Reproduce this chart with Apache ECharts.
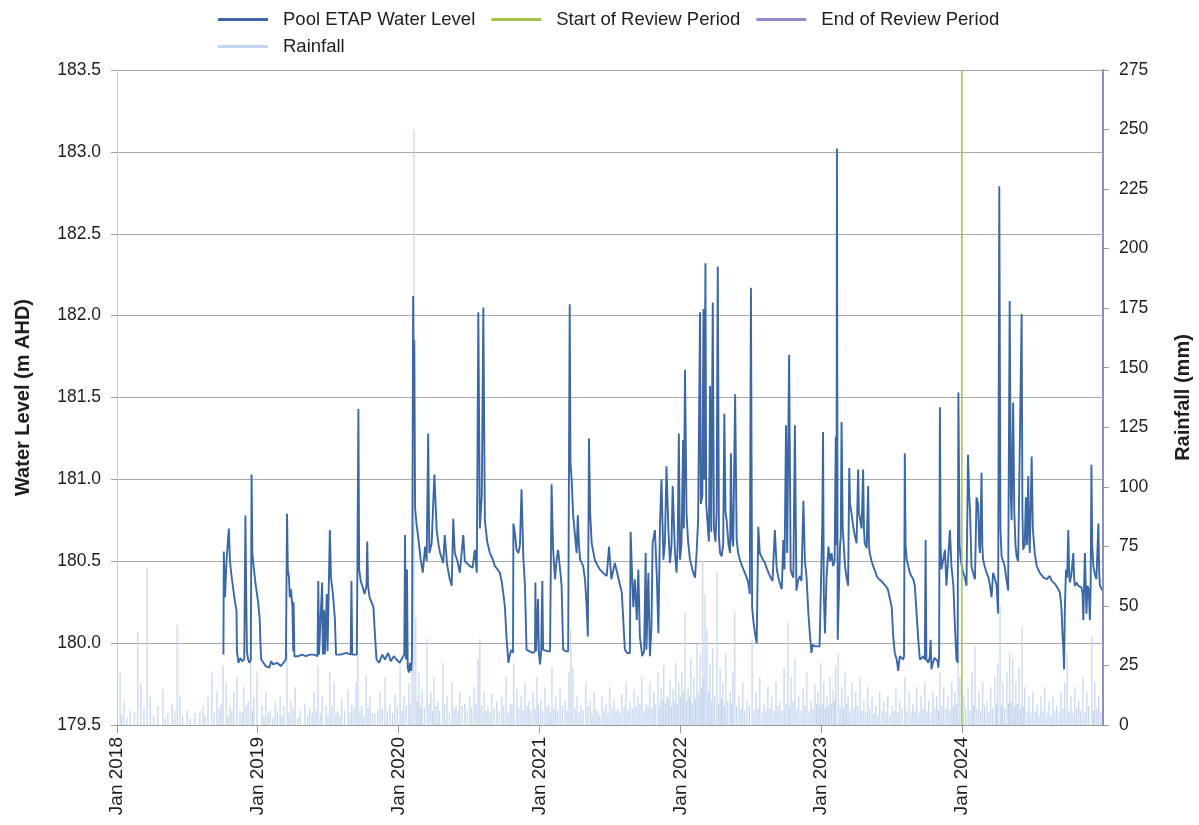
<!DOCTYPE html>
<html><head><meta charset="utf-8">
<script src="https://cdn.jsdelivr.net/npm/echarts@6/dist/echarts.min.js"></script>
<style>html,body{margin:0;padding:0;background:#fff}#c{width:1199px;height:825px}</style>
</head><body><div id="c"></div><script>
// x values are days since 1 Jan 2018
const tickDays = [0, 365, 730, 1096, 1461, 1826, 2191];
const tickLabels = ['Jan 2018','Jan 2019','Jan 2020','Jan 2021','Jan 2022','Jan 2023','Jan 2024'];
const axisEndDay = 2557;
const reviewStartDay = 2191;
const reviewEndDay = 2557;
const levelTicks = [179.5, 183.5, 0.5];
const rainTicks = [0, 275, 25];

const waterLevel = [
[276,179.93],[277,180.56],[280,180.28],[284,180.50],[290,180.70],[293,180.50],[297,180.41],[302,180.32],[306,180.25],[310,180.20],[311,179.95],[315,179.88],[320,179.91],[324,179.89],[330,179.90],[333,180.78],[335,180.32],[337,179.95],[340,179.90],[343,179.88],[347,179.90],[349,181.03],[351,180.55],[355,180.45],[360,180.35],[366,180.25],[370,180.15],[372,180.00],[374,179.90],[380,179.88],[385,179.86],[390,179.87],[395,179.85],[400,179.89],[405,179.87],[410,179.86],[415,179.88],[420,179.88],[425,179.86],[430,179.87],[438,179.90],[441,180.79],[443,180.45],[446,180.40],[448,180.28],[451,180.33],[455,180.22],[457,179.95],[458,180.25],[460,179.92],[470,179.92],[480,179.93],[490,179.92],[500,179.93],[510,179.93],[520,179.92],[522,180.38],[524,179.93],[532,180.37],[534,179.93],[537,180.20],[539,179.93],[544,180.30],[546,179.95],[552,180.69],[555,180.40],[560,180.30],[565,180.15],[568,179.93],[580,179.93],[595,179.94],[606,179.93],[608,180.38],[610,179.93],[622,179.93],[626,181.43],[628,180.45],[632,180.38],[636,180.35],[642,180.30],[647,180.35],[649,180.62],[651,180.35],[655,180.28],[660,180.25],[665,180.22],[669,180.05],[673,179.90],[680,179.88],[688,179.93],[695,179.90],[703,179.94],[710,179.89],[718,179.92],[725,179.90],[733,179.88],[740,179.91],[745,179.93],[747,180.66],[749,179.90],[752,180.45],[754,179.85],[757,179.82],[760,179.88],[763,179.83],[765,179.92],[768,182.12],[770,181.30],[771,181.85],[773,180.83],[777,180.72],[781,180.65],[787,180.52],[793,180.43],[799,180.59],[803,180.50],[807,181.28],[810,180.55],[816,180.61],[823,181.03],[829,180.69],[834,180.60],[838,180.55],[846,180.49],[850,180.66],[856,180.48],[863,180.39],[868,180.35],[872,180.76],[876,180.55],[883,180.50],[889,180.43],[898,180.66],[902,180.50],[907,180.51],[915,180.47],[922,180.46],[928,180.57],[933,180.43],[937,182.02],[941,180.70],[946,180.90],[950,182.05],[954,180.75],[960,180.62],[967,180.55],[973,180.52],[980,180.47],[987,180.45],[993,180.43],[998,180.37],[1002,180.30],[1006,180.22],[1010,180.04],[1015,179.88],[1019,179.93],[1023,179.96],[1027,179.94],[1028,180.73],[1032,180.67],[1036,180.57],[1041,180.55],[1045,180.60],[1049,180.94],[1054,180.51],[1058,180.35],[1062,179.96],[1070,179.95],[1078,179.94],[1084,179.95],[1085,180.37],[1087,179.95],[1092,180.27],[1094,179.94],[1097,179.87],[1100,179.95],[1103,180.38],[1105,179.96],[1110,179.96],[1117,179.95],[1123,179.95],[1127,180.97],[1131,180.57],[1136,180.39],[1140,180.51],[1144,180.57],[1149,180.45],[1153,180.35],[1157,179.96],[1164,179.95],[1170,179.95],[1174,182.07],[1176,181.10],[1179,181.00],[1183,180.78],[1188,180.65],[1192,180.55],[1195,180.78],[1198,180.60],[1201,180.51],[1209,180.47],[1214,180.38],[1218,180.22],[1221,180.04],[1224,181.25],[1227,180.80],[1231,180.61],[1239,180.51],[1245,180.48],[1252,180.45],[1260,180.43],[1270,180.41],[1276,180.59],[1282,180.39],[1291,180.49],[1299,180.41],[1304,180.36],[1309,180.31],[1313,180.14],[1317,179.96],[1323,179.94],[1330,179.94],[1332,180.68],[1336,180.40],[1339,180.22],[1343,180.39],[1348,180.14],[1352,180.45],[1356,180.04],[1362,179.92],[1367,179.95],[1371,180.55],[1373,179.96],[1378,180.43],[1382,179.92],[1386,180.10],[1389,180.61],[1395,180.69],[1400,180.40],[1404,180.06],[1408,180.71],[1412,181.00],[1417,180.51],[1421,180.62],[1425,181.08],[1430,180.69],[1434,180.49],[1438,180.60],[1441,180.96],[1447,180.55],[1451,180.43],[1454,180.60],[1457,181.28],[1460,180.51],[1464,180.61],[1468,181.24],[1470,180.70],[1473,181.67],[1477,180.79],[1481,180.62],[1486,180.51],[1492,180.45],[1499,180.40],[1503,180.55],[1507,180.75],[1512,182.02],[1514,180.85],[1518,180.90],[1521,182.04],[1523,181.00],[1526,182.32],[1528,180.85],[1531,180.75],[1535,180.62],[1538,181.57],[1541,180.68],[1545,182.08],[1548,180.70],[1552,180.62],[1555,180.80],[1558,182.30],[1561,180.65],[1564,180.55],[1568,180.53],[1572,180.60],[1575,181.40],[1578,180.80],[1581,180.75],[1586,180.60],[1590,180.55],[1592,181.16],[1595,180.65],[1598,180.59],[1603,181.52],[1607,180.63],[1611,180.55],[1615,180.51],[1621,180.47],[1628,180.43],[1633,180.40],[1637,180.37],[1641,180.30],[1644,182.17],[1647,180.22],[1650,180.14],[1655,180.05],[1659,180.00],[1663,180.71],[1667,180.55],[1673,180.52],[1680,180.49],[1686,180.45],[1693,180.41],[1700,180.38],[1706,180.69],[1711,180.45],[1717,180.38],[1724,180.33],[1728,180.63],[1731,180.45],[1735,181.33],[1738,180.55],[1743,181.76],[1747,180.45],[1749,180.43],[1754,180.40],[1758,181.33],[1762,180.32],[1766,180.38],[1771,180.41],[1775,180.38],[1780,180.87],[1784,180.50],[1788,180.41],[1793,180.18],[1797,180.05],[1801,179.94],[1804,179.99],[1810,179.98],[1815,179.97],[1822,179.98],[1827,179.97],[1829,180.72],[1831,181.29],[1833,180.30],[1836,180.06],[1840,180.40],[1845,180.59],[1849,180.50],[1853,180.55],[1857,180.47],[1861,180.50],[1864,181.26],[1866,180.60],[1867,183.02],[1869,180.02],[1872,180.30],[1875,180.59],[1877,180.65],[1879,181.35],[1882,180.70],[1888,180.47],[1892,180.40],[1896,180.35],[1899,181.07],[1901,180.85],[1905,180.79],[1910,180.70],[1914,180.65],[1918,180.61],[1922,181.06],[1924,180.80],[1927,180.79],[1931,180.70],[1935,181.06],[1937,180.70],[1939,180.61],[1944,180.58],[1948,180.96],[1950,180.60],[1952,180.55],[1957,180.50],[1961,180.47],[1966,180.44],[1970,180.41],[1976,180.39],[1982,180.38],[1987,180.37],[1993,180.35],[1999,180.33],[2004,180.32],[2009,180.22],[2013,180.04],[2017,179.94],[2022,179.90],[2026,179.83],[2030,179.92],[2035,179.91],[2039,179.90],[2041,179.92],[2043,181.16],[2045,180.60],[2048,180.51],[2052,180.47],[2056,180.43],[2060,180.41],[2065,180.39],[2069,180.35],[2073,180.20],[2078,180.02],[2082,179.90],[2086,179.91],[2091,179.92],[2095,179.90],[2097,180.63],[2099,179.90],[2104,179.88],[2108,179.92],[2110,180.02],[2112,179.84],[2116,179.88],[2120,179.91],[2125,179.92],[2128,179.89],[2130,179.85],[2132,179.92],[2134,181.44],[2136,180.60],[2138,180.45],[2142,180.50],[2147,180.57],[2151,180.35],[2155,180.50],[2160,180.69],[2164,180.47],[2169,180.35],[2173,180.10],[2177,179.90],[2180,179.88],[2182,181.53],[2185,180.60],[2188,180.51],[2194,180.43],[2199,180.40],[2203,180.35],[2207,181.15],[2210,180.90],[2212,180.82],[2216,180.47],[2221,180.42],[2225,180.39],[2229,180.89],[2233,180.85],[2236,180.60],[2238,180.55],[2242,181.04],[2244,180.60],[2246,180.51],[2250,180.47],[2255,180.43],[2260,180.40],[2264,180.35],[2268,180.28],[2272,180.43],[2276,180.40],[2281,180.35],[2285,180.18],[2288,182.79],[2291,180.70],[2294,180.53],[2298,180.50],[2302,180.47],[2306,180.40],[2311,180.32],[2315,182.09],[2318,180.90],[2320,180.75],[2324,181.47],[2327,180.80],[2330,180.60],[2333,180.53],[2337,180.50],[2341,180.49],[2346,182.01],[2348,180.80],[2350,180.57],[2354,180.60],[2357,180.89],[2360,180.60],[2363,181.02],[2365,180.70],[2367,180.55],[2372,181.14],[2375,180.70],[2380,180.55],[2385,180.47],[2389,180.45],[2393,180.43],[2398,180.42],[2403,180.40],[2407,180.41],[2411,180.39],[2415,180.40],[2419,180.41],[2424,180.38],[2428,180.37],[2433,180.36],[2437,180.35],[2441,180.33],[2445,180.31],[2448,180.25],[2450,180.18],[2452,180.05],[2454,179.98],[2456,179.84],[2458,180.20],[2461,180.45],[2464,180.40],[2467,180.69],[2469,180.45],[2471,180.37],[2475,180.42],[2480,180.55],[2482,180.40],[2484,180.35],[2488,180.37],[2493,180.35],[2497,180.36],[2501,180.34],[2504,180.30],[2506,180.14],[2508,180.35],[2510,180.55],[2512,180.38],[2514,180.18],[2517,180.35],[2520,180.33],[2523,180.14],[2525,180.35],[2527,181.09],[2529,180.60],[2532,180.47],[2536,180.42],[2540,180.39],[2545,180.73],[2547,180.45],[2549,180.35],[2553,180.34],[2556,180.32]
];

const rainfall = [
[8,22],[18,10],[34,6],[54,39],[62,18],[78,66],[86,12],[106,8],[119,15],[132,5],[143,9],[156,42],[163,12],[182,6],[202,5],[223,8],[236,12],[246,22],[259,14],[270,9],[275,25],[283,18],[293,8],[303,14],[311,20],[319,6],[329,16],[340,10],[347,28],[355,12],[363,22],
[376,8],[386,14],[397,6],[410,10],[423,12],[433,8],[441,31],[451,10],[462,16],[475,6],[487,9],[500,7],[511,14],[521,25],[532,12],[542,8],[552,22],[563,18],[573,6],[583,11],[599,15],[609,9],[620,18],[625,30],[635,8],[646,21],[656,12],[669,5],[682,14],[695,20],[708,9],[721,13],[734,25],
[744,12],[757,18],[765,30],[770,250],[775,45],[783,22],[791,15],[804,36],[814,14],[822,20],[832,10],[845,26],[856,12],[869,18],[879,8],[889,14],[902,9],[915,12],[926,16],[936,28],[941,36],[952,14],[962,8],[972,13],[985,10],[998,12],[1009,20],[1019,9],[1029,26],[1037,15],[1048,12],[1058,18],[1068,10],[1079,14],[1089,20],
[1099,11],[1110,16],[1120,9],[1128,24],[1138,12],[1149,15],[1162,10],[1172,22],[1177,40],[1182,24],[1193,12],[1203,8],[1216,18],[1227,10],[1237,14],[1247,6],[1258,12],[1268,9],[1278,16],[1289,11],[1299,7],[1309,13],[1320,18],[1330,10],[1341,15],[1351,12],[1361,20],[1372,9],[1382,18],[1392,14],[1403,22],[1411,16],[1418,25],[1426,12],[1434,19],[1442,15],[1449,26],[1457,18],
[1465,22],[1473,47],[1481,16],[1488,28],[1496,20],[1504,34],[1512,30],[1519,69],[1525,55],[1530,40],[1538,26],[1545,32],[1556,64],[1564,24],[1571,18],[1579,30],[1590,14],[1597,22],[1602,47],[1613,12],[1623,18],[1634,10],[1647,36],[1657,14],[1667,20],[1678,9],[1688,16],[1698,12],[1709,18],[1719,10],[1730,24],[1740,43],[1748,20],[1758,28],[1768,12],[1779,15],[1789,22],[1800,10],[1810,17],[1818,14],[1825,26],
[1833,18],[1841,12],[1849,20],[1857,15],[1864,25],[1870,30],[1880,16],[1888,22],[1896,12],[1906,18],[1916,14],[1927,20],[1937,10],[1947,16],[1958,12],[1968,8],[1978,14],[1989,10],[1999,12],[2010,8],[2020,15],[2030,10],[2043,20],[2054,14],[2064,9],[2074,16],[2085,12],[2095,18],[2105,10],[2116,14],[2126,12],[2134,22],[2144,16],[2155,12],[2165,18],[2173,14],[2181,30],[2186,20],
[2196,12],[2207,16],[2217,22],[2225,33],[2235,14],[2245,18],[2256,10],[2266,16],[2277,20],[2284,26],[2290,50],[2297,18],[2308,22],[2315,30],[2323,28],[2331,18],[2339,24],[2347,41],[2354,16],[2365,12],[2375,14],[2386,9],[2396,12],[2406,16],[2417,10],[2427,12],[2437,8],[2448,14],[2458,18],[2464,30],[2474,12],[2484,16],[2494,10],[2505,20],[2515,14],[2528,37],[2536,18],[2546,12],
[12,4],[26,3],[45,5],[70,7],[95,4],[125,3],[150,6],[170,4],[190,3],[215,6],[228,4],[252,5],[265,7],[288,4],[298,6],[325,5],[335,8],[351,6],
[381,4],[392,5],[404,3],[416,6],[428,4],[446,5],[457,7],[469,3],[494,4],[506,5],[516,6],[527,5],[547,4],[557,8],[568,5],[578,4],[590,6],[604,5],[615,7],[630,6],[640,4],[651,7],[662,5],[676,6],[688,7],[701,6],[715,5],[727,8],
[739,6],[750,8],[760,9],[779,10],[787,8],[797,7],[809,9],[818,6],[827,8],[837,6],[850,9],[862,5],[874,7],[884,6],[895,8],[908,6],[920,7],[931,9],[946,8],[957,6],[967,5],[978,7],[991,6],[1003,8],[1014,5],[1024,9],[1042,7],[1053,6],[1063,8],[1073,6],[1084,7],[1093,9],
[1104,6],[1115,8],[1124,5],[1133,7],[1143,6],[1155,8],[1167,6],[1188,7],[1198,5],[1209,6],[1221,8],[1232,5],[1242,7],[1252,4],[1263,6],[1273,5],[1284,7],[1294,6],[1304,5],[1315,8],[1325,6],[1336,7],[1346,8],[1356,9],[1367,6],[1377,8],[1387,7],[1397,9],[1407,8],[1414,10],[1422,9],[1430,11],[1438,8],[1445,10],[1453,9],
[1461,12],[1469,14],[1477,10],[1485,12],[1492,9],[1500,11],[1508,13],[1515,16],[1522,20],[1534,14],[1541,10],[1550,12],[1560,9],[1568,11],[1575,8],[1584,10],[1593,9],[1607,8],[1618,7],[1628,6],[1640,8],[1652,6],[1662,7],[1673,5],[1683,6],[1693,7],[1704,6],[1714,8],[1725,6],[1735,9],[1744,8],[1753,10],[1763,7],[1774,6],[1784,8],[1795,6],[1805,7],[1814,9],[1821,8],
[1829,9],[1837,7],[1845,8],[1853,9],[1861,10],[1875,8],[1884,7],[1892,9],[1901,6],[1911,7],[1921,8],[1932,6],[1942,5],[1952,7],[1963,5],[1973,4],[1984,6],[1994,5],[2005,4],[2015,6],[2025,5],[2036,7],[2048,6],[2059,5],[2069,6],[2080,5],[2090,7],[2100,6],[2111,5],[2121,7],[2130,6],[2139,8],[2150,7],[2160,6],[2169,8],[2177,9],
[2201,7],[2212,6],[2221,8],[2230,7],[2240,6],[2250,8],[2261,5],[2271,7],[2281,9],[2294,8],[2302,7],[2312,9],[2319,10],[2327,8],[2335,9],[2343,7],[2350,8],[2360,6],[2370,5],[2381,6],[2391,4],[2401,6],[2412,5],[2422,4],[2432,6],[2443,5],[2453,7],[2469,6],[2479,5],[2489,7],[2499,6],[2510,5],[2520,8],[2532,6],[2541,7],[2551,5]
];

const FONT = '"Liberation Sans", Arial, sans-serif';
const TXT = '#1e1e1e';
const chart = echarts.init(document.getElementById('c'), null, {renderer: 'canvas'});
const legendText = {fontSize: 18.5, color: TXT, fontFamily: FONT, padding: [0, 0, 0, 10]};
const option = {
  animation: false,
  backgroundColor: '#fff',
  textStyle: {fontFamily: FONT, color: TXT},
  legend: [
    {left: 213, top: 5, itemWidth: 50, itemHeight: 3, itemGap: 16, icon: 'rect',
     textStyle: legendText,
     data: ['Pool ETAP Water Level', 'Start of Review Period', 'End of Review Period']},
    {left: 213, top: 32, itemWidth: 50, itemHeight: 3, icon: 'rect',
     textStyle: legendText,
     data: ['Rainfall']}
  ],
  grid: {left: 117, right: 96, top: 70, bottom: 100, containLabel: false, outerBoundsMode: 'none'},
  xAxis: {
    type: 'value', min: 0, max: axisEndDay,
    axisLine: {show: true, lineStyle: {color: '#9a9a9a'}},
    axisTick: {show: true, customValues: tickDays, length: 8, lineStyle: {color: '#9a9a9a'}},
    axisLabel: {customValues: tickDays, rotate: 90, fontSize: 19, color: TXT, margin: 12, fontFamily: FONT,
      formatter: v => { const i = tickDays.indexOf(Math.round(v)); return i >= 0 ? tickLabels[i] : ''; }},
    splitLine: {show: false}
  },
  yAxis: [
    {type: 'value', min: levelTicks[0], max: levelTicks[1], interval: levelTicks[2],
     name: 'Water Level (m AHD)', nameLocation: 'middle', nameGap: 84, nameRotate: 90,
     nameTextStyle: {fontWeight: 'bold', fontSize: 20, color: TXT, fontFamily: FONT},
     axisLabel: {formatter: v => v.toFixed(1), fontSize: 17.5, color: TXT, margin: 16, fontFamily: FONT},
     axisLine: {show: true, lineStyle: {color: '#c8c8c8'}},
     axisTick: {show: true, length: 6, lineStyle: {color: '#9a9a9a'}},
     splitLine: {show: true, lineStyle: {color: '#a8a8a8', width: 1}}},
    {type: 'value', min: rainTicks[0], max: rainTicks[1], interval: rainTicks[2], position: 'right',
     name: 'Rainfall (mm)', nameLocation: 'middle', nameGap: 70, nameRotate: 90,
     nameTextStyle: {fontWeight: 'bold', fontSize: 20, color: TXT, fontFamily: FONT},
     axisLabel: {fontSize: 17.5, color: TXT, margin: 16, fontFamily: FONT},
     axisLine: {show: true, lineStyle: {color: '#8f8cc8', width: 2}},
     axisTick: {show: true, length: 6, lineStyle: {color: '#9a9a9a'}},
     splitLine: {show: false}}
  ],
  series: [
    {name: 'Rainfall', type: 'bar', yAxisIndex: 1, barWidth: 1.2, z: 1,
     itemStyle: {color: '#c3d4ed'}, data: rainfall},
    {name: 'Pool ETAP Water Level', type: 'line', yAxisIndex: 0, showSymbol: false, z: 3,
     lineStyle: {color: '#3b68a4', width: 1.9}, itemStyle: {color: '#3b68a4'}, data: waterLevel},
    {name: 'Start of Review Period', type: 'line', yAxisIndex: 0, showSymbol: false, z: 4,
     lineStyle: {color: '#a3c24a', width: 1.5}, itemStyle: {color: '#a3c24a'},
     data: [[reviewStartDay, levelTicks[0]], [reviewStartDay, levelTicks[1]]]},
    {name: 'End of Review Period', type: 'line', yAxisIndex: 0, showSymbol: false, z: 4,
     lineStyle: {color: '#8f8cc8', width: 2}, itemStyle: {color: '#8f8cc8'},
     data: [[reviewEndDay, levelTicks[0]], [reviewEndDay, levelTicks[1]]]}
  ]
};
chart.setOption(option);
</script></body></html>
